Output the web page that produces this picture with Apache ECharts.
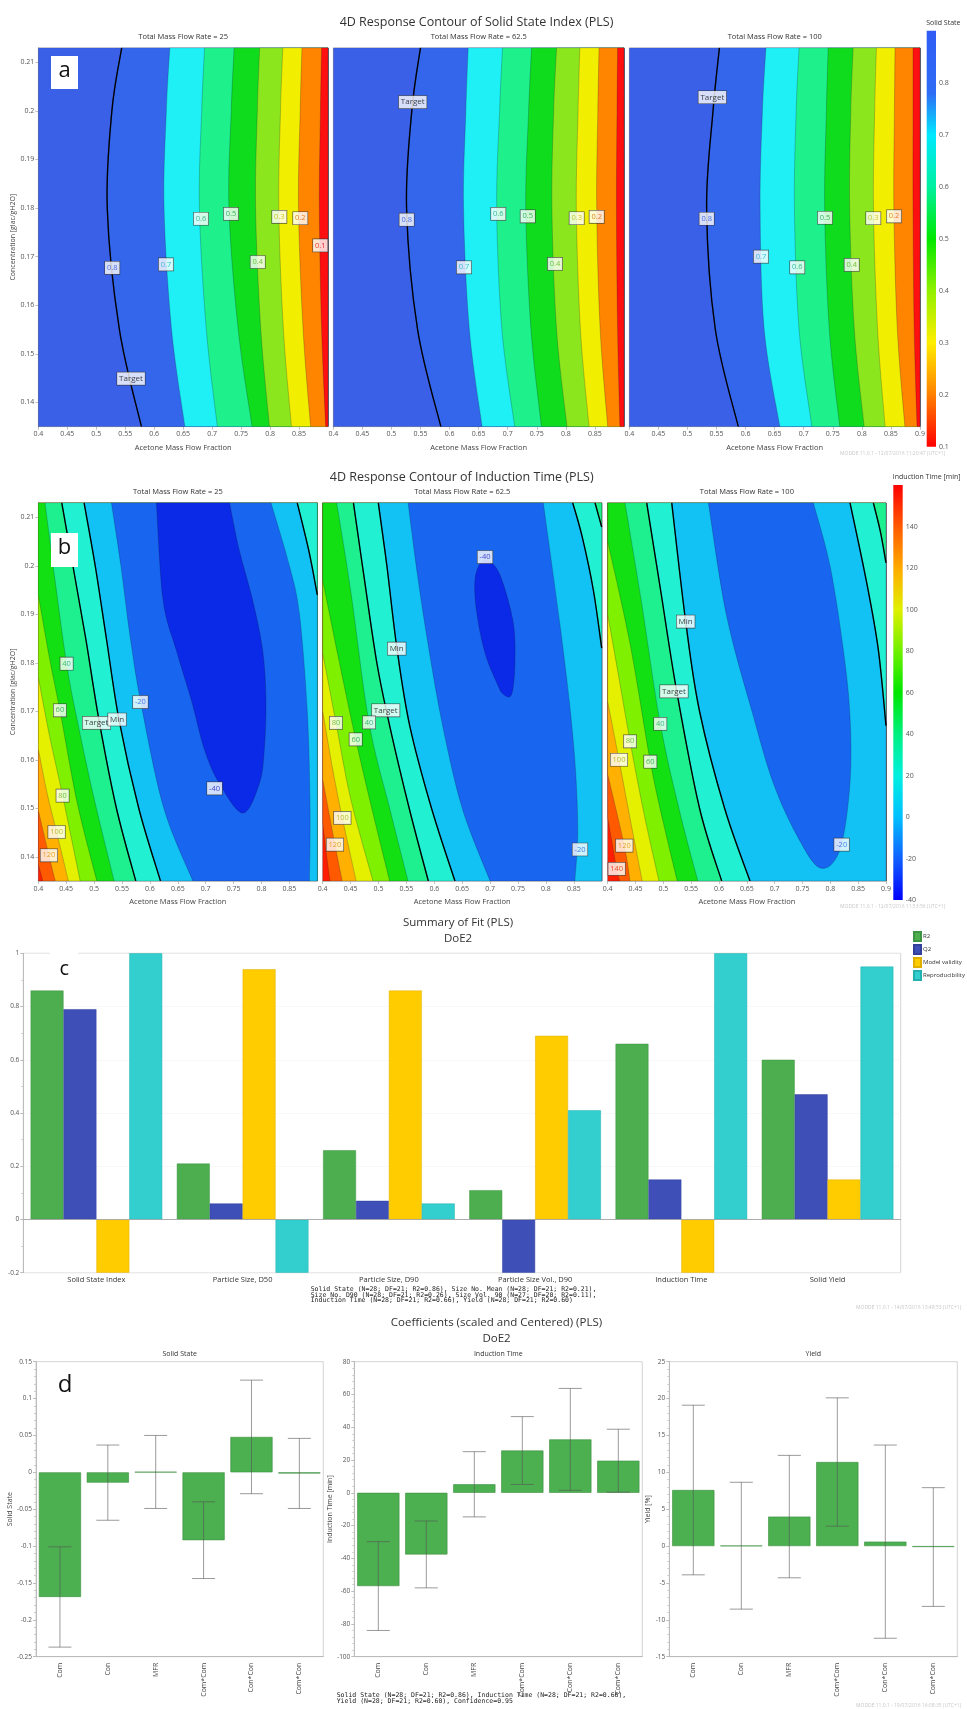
<!DOCTYPE html>
<html>
<head>
<meta charset="utf-8">
<title>DoE2 - response contours, summary of fit, coefficients</title>
<script src="https://cdn.jsdelivr.net/npm/echarts@6/dist/echarts.min.js"></script>
<style>
  html, body { margin: 0; padding: 0; background: #fff; }
  #chart { width: 967px; height: 1709px; }
</style>
</head>
<body>
<div id="chart"></div>
<script>
// ---------- (a) Solid State Index: x of each contour line at the heights in ssYs ----------
var ssYs = [0.213, 0.2, 0.18, 0.155, 0.135];
var ssLevels = [0.8, 0.7, 0.6, 0.5, 0.4, 0.3, 0.2, 0.1];
var ssLines25 = [
  [0.544, 0.527, 0.519, 0.540, 0.578],
  [0.627, 0.621, 0.617, 0.630, 0.653],
  [0.687, 0.682, 0.678, 0.690, 0.709],
  [0.738, 0.733, 0.729, 0.745, 0.769],
  [0.782, 0.778, 0.775, 0.784, 0.799],
  [0.822, 0.818, 0.815, 0.823, 0.837],
  [0.855, 0.852, 0.849, 0.857, 0.870],
  [0.889, 0.887, 0.885, 0.889, 0.896]
];
var ssLines62 = [
  [0.550, 0.535, 0.526, 0.545, 0.585],
  [0.632, 0.628, 0.624, 0.634, 0.656],
  [0.691, 0.686, 0.681, 0.690, 0.712],
  [0.741, 0.736, 0.731, 0.740, 0.758],
  [0.784, 0.779, 0.776, 0.784, 0.802],
  [0.824, 0.821, 0.818, 0.825, 0.840],
  [0.857, 0.855, 0.853, 0.859, 0.872],
  [0.889, 0.888, 0.887, 0.889, 0.893]
];
var ssLines100 = [
  [0.555, 0.544, 0.533, 0.548, 0.5875],
  [0.635, 0.629, 0.625, 0.632, 0.659],
  [0.692, 0.687, 0.684, 0.692, 0.714],
  [0.742, 0.739, 0.736, 0.744, 0.762],
  [0.785, 0.781, 0.779, 0.787, 0.804],
  [0.825, 0.822, 0.820, 0.827, 0.840],
  [0.857, 0.856, 0.855, 0.861, 0.874],
  [0.888, 0.888, 0.888, 0.890, 0.895]
];
var ssLabels25 = [[0.5277, 0.1677, '0.8'], [0.6204, 0.1684, '0.7'], [0.6808, 0.1778, '0.6'], [0.7326, 0.1788, '0.5'],
  [0.7787, 0.1689, '0.4'], [0.816, 0.1782, '0.3'], [0.8522, 0.1779, '0.2'], [0.8867, 0.1723, '0.1'], [0.56, 0.1449, 'Target']];
var ssLabels62 = [[0.5366, 0.2018, 'Target'], [0.5262, 0.1776, '0.8'], [0.6248, 0.1678, '0.7'], [0.6838, 0.1788, '0.6'],
  [0.7344, 0.1783, '0.5'], [0.7813, 0.1685, '0.4'], [0.8186, 0.1779, '0.3'], [0.853, 0.1782, '0.2']];
var ssLabels100 = [[0.5428, 0.2028, 'Target'], [0.5331, 0.1778, '0.8'], [0.6265, 0.17, '0.7'], [0.6889, 0.1678, '0.6'],
  [0.7366, 0.178, '0.5'], [0.7825, 0.1683, '0.4'], [0.8197, 0.1779, '0.3'], [0.8553, 0.1783, '0.2']];

// ---------- (b) Induction Time: contour pieces [x, y] per level ----------
var itLevels = [140, 120, 100, 80, 60, 40, 20, 0, -20, -40];
var itLines25 = [
  [[[0.4, 0.1385], [0.408, 0.135]]],
  [[[0.4, 0.1496], [0.419, 0.1403], [0.4304, 0.135]]],
  [[[0.4, 0.1622], [0.416, 0.153], [0.4328, 0.1451], [0.454, 0.135]]],
  [[[0.4, 0.177], [0.42, 0.165], [0.4435, 0.1526], [0.475, 0.135]]],
  [[[0.4, 0.194], [0.42, 0.181], [0.4387, 0.1702], [0.47, 0.151], [0.505, 0.135]]],
  [[[0.412, 0.213], [0.43, 0.197], [0.4507, 0.1798], [0.47, 0.168], [0.5, 0.152], [0.536, 0.135]]],
  [[[0.442, 0.213], [0.462, 0.2], [0.485, 0.185], [0.509, 0.168], [0.54, 0.15], [0.5747, 0.135]]],
  [[[0.482, 0.213], [0.502, 0.2], [0.522, 0.185], [0.545, 0.168], [0.58, 0.15], [0.619, 0.135]],
   [[0.9, 0.194], [0.885, 0.203], [0.864, 0.213]]],
  [[[0.531, 0.213], [0.548, 0.2], [0.565, 0.185], [0.585, 0.171], [0.625, 0.15], [0.677, 0.135]],
   [[0.886, 0.135], [0.887, 0.15], [0.882, 0.17], [0.868, 0.19], [0.85, 0.2], [0.817, 0.213]]],
  [[[0.6116, 0.213], [0.6235, 0.193], [0.647, 0.1827], [0.674, 0.1724], [0.698, 0.162], [0.725, 0.155], [0.7666, 0.149],
    [0.796, 0.155], [0.805, 0.162], [0.808, 0.1724], [0.802, 0.1827], [0.784, 0.193], [0.76, 0.2033], [0.7427, 0.213]]]
];
var itLines62 = [
  [[[0.4, 0.147], [0.406, 0.141], [0.413, 0.135]]],
  [[[0.4, 0.156], [0.422, 0.1425], [0.435, 0.135]]],
  [[[0.4, 0.17], [0.418, 0.158], [0.4352, 0.148], [0.46, 0.135]]],
  [[[0.4, 0.182], [0.4238, 0.1676], [0.45, 0.152], [0.49, 0.135]]],
  [[[0.4, 0.197], [0.43, 0.18], [0.4591, 0.1642], [0.49, 0.149], [0.52, 0.135]]],
  [[[0.425, 0.213], [0.45, 0.195], [0.483, 0.1677], [0.52, 0.15], [0.553, 0.135]]],
  [[[0.455, 0.213], [0.475, 0.197], [0.497, 0.18], [0.52, 0.167], [0.555, 0.15], [0.5893, 0.135]],
   [[0.9, 0.208], [0.888, 0.213]]],
  [[[0.4996, 0.213], [0.515, 0.2], [0.533, 0.183], [0.556, 0.167], [0.595, 0.15], [0.637, 0.135]],
   [[0.9, 0.183], [0.885, 0.195], [0.865, 0.206], [0.848, 0.213]]],
  [[[0.553, 0.213], [0.57, 0.198], [0.59, 0.183], [0.615, 0.167], [0.65, 0.15], [0.70, 0.135]],
   [[0.852, 0.135], [0.857, 0.145], [0.853, 0.158], [0.842, 0.172], [0.825, 0.188], [0.7953, 0.213]]],
  [[[0.685, 0.2009], [0.6729, 0.1972], [0.676, 0.1903], [0.6909, 0.182], [0.7118, 0.1759], [0.7237, 0.1735],
    [0.7387, 0.1735], [0.7446, 0.18], [0.7416, 0.1882], [0.7208, 0.1972], [0.7029, 0.2006], [0.685, 0.2009]]]
];
var itLines100 = [
  [[[0.4, 0.148], [0.4162, 0.1375], [0.422, 0.135]]],
  [[[0.4, 0.157], [0.4298, 0.1423], [0.44, 0.135]]],
  [[[0.4, 0.172], [0.4203, 0.16], [0.44, 0.148], [0.462, 0.135]]],
  [[[0.4, 0.19], [0.42, 0.177], [0.4401, 0.1638], [0.465, 0.149], [0.492, 0.135]]],
  [[[0.4, 0.205], [0.44, 0.184], [0.4766, 0.1596], [0.5, 0.147], [0.525, 0.135]]],
  [[[0.431, 0.213], [0.46, 0.193], [0.4945, 0.1674], [0.53, 0.149], [0.562, 0.135]]],
  [[[0.47, 0.213], [0.495, 0.195], [0.524, 0.1741], [0.565, 0.15], [0.6048, 0.135]],
   [[0.9, 0.2006], [0.89, 0.207], [0.8772, 0.213]]],
  [[[0.515, 0.213], [0.5401, 0.1885], [0.565, 0.17], [0.61, 0.15], [0.6557, 0.135]],
   [[0.9, 0.167], [0.8862, 0.1827], [0.8653, 0.1965], [0.8353, 0.213]]],
  [[[0.5808, 0.213], [0.6138, 0.1896], [0.6616, 0.169], [0.6975, 0.1552], [0.7395, 0.1445], [0.7815, 0.1377],
    [0.8174, 0.1415], [0.8353, 0.1552], [0.8353, 0.169], [0.8233, 0.1827], [0.7994, 0.2], [0.7694, 0.213]]],
  []
];
var itLabels25 = [[0.4507, 0.1798, '40'], [0.4387, 0.1702, '60'], [0.4435, 0.1526, '80'], [0.4328, 0.1451, '100'],
  [0.4191, 0.1403, '120'], [0.5043, 0.1676, 'Target'], [0.5413, 0.1683, 'Min'], [0.583, 0.1719, '-20'], [0.7159, 0.1541, '-40']];
var itLabels62 = [[0.5326, 0.1829, 'Min'], [0.5129, 0.1702, 'Target'], [0.4238, 0.1676, '80'], [0.483, 0.1677, '40'],
  [0.4591, 0.1642, '60'], [0.4352, 0.148, '100'], [0.422, 0.1425, '120'], [0.6909, 0.2018, '-40'], [0.8611, 0.1415, '-20']];
var itLabels100 = [[0.5401, 0.1885, 'Min'], [0.5191, 0.1741, 'Target'], [0.4945, 0.1674, '40'], [0.4401, 0.1638, '80'],
  [0.4203, 0.16, '100'], [0.4766, 0.1596, '60'], [0.4298, 0.1423, '120'], [0.4162, 0.1375, '140'], [0.8204, 0.1425, '-20']];

// ---------- (c) Summary of fit ----------
var fitCats = ['Solid State Index', 'Particle Size, D50', 'Particle Size, D90', 'Particle Size Vol., D90', 'Induction Time', 'Solid Yield'];
var fitR2 = [0.86, 0.21, 0.26, 0.11, 0.66, 0.60];
var fitQ2 = [0.79, 0.06, 0.07, -0.2, 0.15, 0.47];
var fitValidity = [-0.2, 0.94, 0.86, 0.69, -0.2, 0.15];
var fitRepro = [1.0, -0.2, 0.06, 0.41, 1.0, 0.95];

// ---------- (d) Coefficients with 95% confidence ----------
var coefTerms = ['Com', 'Con', 'MFR', 'Com*Com', 'Con*Con', 'Com*Con'];
var coefSolid = [-0.169, -0.014, 0.0005, -0.092, 0.048, -0.0015];
var ciSolid = [0.068, 0.051, 0.0495, 0.052, 0.077, 0.0475];
var coefInduction = [-56.9, -37.6, 5.2, 25.8, 32.6, 19.6];
var ciInduction = [27.1, 20.4, 19.9, 20.7, 31.1, 19.2];
var coefYield = [7.6, 0.05, 4.0, 11.4, 0.6, -0.13];
var ciYield = [11.5, 8.6, 8.3, 8.7, 13.1, 8.05];

// ---------- styles ----------
var FONT = '"Open Sans", "Noto Sans", sans-serif';
var MONO = '"DejaVu Sans Mono", "Liberation Mono", monospace';
var ssFill = ['#3a60e8', '#3466ec', '#1ff0f5', '#1ef08c', '#10dc1e', '#8ce61e', '#f2ee00', '#ff8400', '#ff1010'];
var itFill = ['#ff1e00', '#ff5a00', '#ffb000', '#e4f000', '#7ef000', '#12e012', '#1ef090', '#22f0d2', '#12c2f5', '#1866f0', '#0a2ae8'];
var labelInk = {
  '0.8': '#3050d8', '0.7': '#18b0c8', '0.6': '#18a878', '0.5': '#18a040', '0.4': '#58b018', '0.3': '#c0b800',
  '0.2': '#d86000', '0.1': '#e00000', '140': '#e03000', '120': '#e09000', '100': '#a8b010', '80': '#58b020',
  '60': '#20a040', '40': '#20a868', '-20': '#2060e0', '-40': '#2020c0'
};
var XR = [0.4, 0.9], YR = [0.135, 0.213];
var CORNERS = [[XR[0], YR[0]], [XR[1], YR[0]], [XR[1], YR[1]], [XR[0], YR[1]]];

// position of a boundary point along the plot frame, counter-clockwise from bottom-left
function perim(p) {
  var u = (p[0] - XR[0]) / (XR[1] - XR[0]);
  var v = (p[1] - YR[0]) / (YR[1] - YR[0]);
  var d = [Math.abs(v), Math.abs(1 - u), Math.abs(1 - v), Math.abs(u)];
  var m = Math.min.apply(null, d);
  if (m === d[0]) return u;
  if (m === d[1]) return 1 + v;
  if (m === d[2]) return 2 + (1 - u);
  return 3 + (1 - v);
}
function walk(from, to) {
  var s0 = perim(from), s1 = perim(to);
  if (s1 < s0) s1 += 4;
  var out = [];
  for (var k = Math.floor(s0) + 1; k < s1; k++) out.push(CORNERS[k % 4]);
  return out;
}
function isClosed(piece) {
  var a = piece[0], b = piece[piece.length - 1];
  return piece.length > 2 && a[0] === b[0] && a[1] === b[1];
}
// Catmull-Rom curve through pixel points, as cubic segments
function curve(pts, closed) {
  var n = pts.length, d = '';
  function get(i) { return closed ? pts[(i + n) % n] : pts[Math.max(0, Math.min(n - 1, i))]; }
  var segs = closed ? n : n - 1;
  for (var i = 0; i < segs; i++) {
    var p0 = get(i - 1), p1 = get(i), p2 = get(i + 1), p3 = get(i + 2);
    d += ' C' + (p1[0] + (p2[0] - p0[0]) / 6) + ',' + (p1[1] + (p2[1] - p0[1]) / 6) + ' ' +
      (p2[0] - (p3[0] - p1[0]) / 6) + ',' + (p2[1] - (p3[1] - p1[1]) / 6) + ' ' + p2[0] + ',' + p2[1];
  }
  return d;
}
function regionPath(pieces, api) {
  var d = '';
  pieces.forEach(function (piece, k) {
    var closed = isClosed(piece);
    var pts = (closed ? piece.slice(0, -1) : piece).map(function (p) { return api.coord(p); });
    d += (k === 0 ? 'M' : ' L') + pts[0][0] + ',' + pts[0][1] + curve(pts, closed);
    if (!closed) {
      walk(piece[piece.length - 1], pieces[(k + 1) % pieces.length][0]).forEach(function (c) {
        var q = api.coord(c);
        d += ' L' + q[0] + ',' + q[1];
      });
    }
  });
  return d + ' Z';
}
function linePath(piece, api) {
  var pts = piece.map(function (p) { return api.coord(p); });
  return 'M' + pts[0][0] + ',' + pts[0][1] + curve(pts, false);
}
function boxPath(api) {
  return 'M' + CORNERS.map(function (c) { var q = api.coord(c); return q[0] + ',' + q[1]; }).join(' L') + ' Z';
}

var grids = [], xAxes = [], yAxes = [], series = [], graphics = [];

function txt(x, y, text, size, opts) {
  opts = opts || {};
  var align = opts.align || 'center';
  return {
    type: 'text', x: x, y: y, z: 60, silent: true,
    style: {
      text: text, fontSize: size, fontFamily: opts.family || FONT, fill: opts.color || '#333',
      fontWeight: opts.weight || 'normal', align: align, textAlign: align,
      verticalAlign: 'middle', textVerticalAlign: 'middle', lineHeight: opts.lineHeight || size * 1.2
    }
  };
}

var axisGrey = { color: '#999', width: 0.6 };
var yTicks = [0.14, 0.15, 0.16, 0.17, 0.18, 0.19, 0.2, 0.21];

function contourPanel(box, regions, fills, black, labels, firstCol, lastCol) {
  var g = grids.length;
  grids.push({ left: box[0], top: box[1], width: box[2], height: box[3], show: true, borderColor: '#aaa', borderWidth: 0.5 });
  xAxes.push({
    type: 'value', gridIndex: g, min: XR[0], max: XR[1], interval: 0.05,
    name: 'Acetone Mass Flow Fraction', nameLocation: 'middle', nameGap: 17,
    nameTextStyle: { fontSize: 7.5, color: '#444', fontFamily: FONT },
    axisLine: { lineStyle: axisGrey }, axisTick: { length: 3, lineStyle: axisGrey },
    axisLabel: { fontSize: 7, color: '#555', margin: 4, showMaxLabel: lastCol, fontFamily: FONT },
    splitLine: { show: false }
  });
  yAxes.push({
    type: 'value', gridIndex: g, min: YR[0], max: YR[1], show: firstCol,
    name: 'Concentration [glac/gH2O]', nameLocation: 'middle', nameGap: 22,
    nameTextStyle: { fontSize: 7, color: '#444', fontFamily: FONT },
    axisLine: { lineStyle: axisGrey },
    axisTick: { length: 3, lineStyle: axisGrey, customValues: yTicks },
    axisLabel: { fontSize: 7, color: '#555', margin: 4, customValues: yTicks, fontFamily: FONT },
    splitLine: { show: false }
  });
  series.push({
    type: 'custom', xAxisIndex: g, yAxisIndex: g, clip: true, silent: true, z: 2,
    data: fills.map(function (f, i) { return [i]; }),
    renderItem: function (params, api) {
      var i = params.dataIndex;
      if (i > 0 && regions[i - 1].length === 0) return null;
      var kids = [{
        type: 'path', z2: i, shape: { pathData: i === 0 ? boxPath(api) : regionPath(regions[i - 1], api) },
        style: { fill: fills[i], stroke: 'rgba(20,20,50,0.45)', lineWidth: 0.5 }
      }];
      if (i > 0 && black.indexOf(i - 1) >= 0) {
        regions[i - 1].forEach(function (piece) {
          kids.push({ type: 'path', z2: 100, shape: { pathData: linePath(piece, api) },
            style: { fill: 'none', stroke: '#000', lineWidth: 1.4 } });
        });
      }
      return { type: 'group', children: kids };
    }
  });
  series.push({
    type: 'scatter', xAxisIndex: g, yAxisIndex: g, symbolSize: 1, silent: true, z: 6,
    itemStyle: { color: 'rgba(0,0,0,0)' },
    data: labels.map(function (l) {
      var special = l[2] === 'Target' || l[2] === 'Min';
      return { value: [l[0], l[1]], name: l[2],
        label: { color: special ? '#111' : (labelInk[l[2]] || '#333'), fontSize: special ? 8 : 7.5 } };
    }),
    label: {
      show: true, position: 'inside', formatter: '{b}', fontFamily: FONT,
      backgroundColor: '#fff', borderColor: '#333', borderWidth: 0.6, padding: [2.5, 2, 2, 2]
    }
  });
}

function colorBar(box, min, max, interval, stops) {
  var g = grids.length;
  grids.push({ left: box[0], top: box[1], width: box[2], height: box[3] });
  xAxes.push({ type: 'value', gridIndex: g, min: 0, max: 1, show: false });
  yAxes.push({
    type: 'value', gridIndex: g, min: min, max: max, interval: interval, position: 'right',
    axisLine: { show: false }, axisTick: { show: false }, splitLine: { show: false },
    axisLabel: { fontSize: 7, color: '#555', margin: 3, showMaxLabel: false, fontFamily: FONT }
  });
  series.push({
    type: 'custom', xAxisIndex: g, yAxisIndex: g, silent: true, data: [[0]],
    renderItem: function (params, api) {
      var a = api.coord([0, max]), b = api.coord([1, min]);
      return { type: 'rect', shape: { x: a[0], y: a[1], width: b[0] - a[0], height: b[1] - a[1] },
        style: { fill: { type: 'linear', x: 0, y: 0, x2: 0, y2: 1, colorStops: stops } } };
    }
  });
}

// ---------- (a) ----------
function ssPieces(lines) {
  return lines.map(function (xs) { return [xs.map(function (x, k) { return [x, ssYs[k]]; })]; });
}
contourPanel([38.3, 47.7, 289.7, 379], ssPieces(ssLines25), ssFill, [0], ssLabels25, true, false);
contourPanel([333.3, 47.7, 290.7, 379], ssPieces(ssLines62), ssFill, [0], ssLabels62, false, false);
contourPanel([629.3, 47.7, 290.7, 379], ssPieces(ssLines100), ssFill, [0], ssLabels100, false, true);
colorBar([926.7, 30.7, 9.3, 416], 0.1, 0.9, 0.1, [
  { offset: 0, color: '#2f5cf5' }, { offset: 0.15, color: '#2f6cf5' }, { offset: 0.25, color: '#00e8ff' },
  { offset: 0.375, color: '#00f0a0' }, { offset: 0.5, color: '#00e800' }, { offset: 0.625, color: '#90f000' },
  { offset: 0.75, color: '#ffee00' }, { offset: 0.875, color: '#ff8000' }, { offset: 1, color: '#ff0000' }
]);

// ---------- (b) ----------
contourPanel([38.3, 502.7, 279, 378.3], itLines25, itFill, [6, 7], itLabels25, true, false);
contourPanel([322.7, 502.7, 279, 378.3], itLines62, itFill, [6, 7], itLabels62, false, false);
contourPanel([607.7, 502.7, 278.3, 378.3], itLines100, itFill, [6, 7], itLabels100, false, true);
colorBar([893.3, 485, 9.4, 415], -40, 160, 20, [
  { offset: 0, color: '#ff0000' }, { offset: 0.1, color: '#ff5a00' }, { offset: 0.2, color: '#ffaa00' },
  { offset: 0.3, color: '#e0f000' }, { offset: 0.4, color: '#70f000' }, { offset: 0.5, color: '#00e600' },
  { offset: 0.6, color: '#00f080' }, { offset: 0.7, color: '#00f0e0' }, { offset: 0.8, color: '#00c0ff' },
  { offset: 0.9, color: '#1060ff' }, { offset: 1, color: '#0000ff' }
]);

// ---------- (c) ----------
var gC = grids.length;
grids.push({ left: 23.3, top: 953.3, width: 877.4, height: 319.4, show: true, borderColor: '#c8c8c8', borderWidth: 0.8 });
xAxes.push({
  type: 'category', gridIndex: gC, data: fitCats,
  axisLine: { lineStyle: { color: '#bbb' } }, axisTick: { alignWithLabel: true, length: 3, lineStyle: { color: '#bbb' } },
  axisLabel: { fontSize: 7.5, color: '#333', margin: 3, interval: 0, fontFamily: FONT }
});
yAxes.push({
  type: 'value', gridIndex: gC, min: -0.2, max: 1, interval: 0.2,
  axisLine: { show: true, lineStyle: { color: '#bbb' } }, axisTick: { show: true, length: 3, lineStyle: { color: '#bbb' } },
  minorTick: { show: true, splitNumber: 2, length: 2, lineStyle: { color: '#ccc' } },
  axisLabel: { fontSize: 6.5, color: '#555', margin: 4, fontFamily: FONT },
  splitLine: { show: true, lineStyle: { color: '#f3f3f3', width: 0.6 } }
});
[['R2', fitR2, '#4cae4f', '#3f9443'], ['Q2', fitQ2, '#3f4fb8', '#33409a'],
 ['Model validity', fitValidity, '#ffcc00', '#e0b000'], ['Reproducibility', fitRepro, '#33cfcf', '#22b0b0']].forEach(function (s, k) {
  series.push({
    type: 'bar', name: s[0], xAxisIndex: gC, yAxisIndex: gC, data: s[1], barGap: '0%', barCategoryGap: '10%',
    itemStyle: { color: s[2], borderColor: s[3], borderWidth: 0.5 }, silent: true,
    markLine: k === 0 ? { silent: true, symbol: 'none', label: { show: false }, data: [{ yAxis: 0 }],
      lineStyle: { color: '#aaa', width: 0.8, type: 'solid' } } : undefined
  });
});

// ---------- (d) ----------
function coefPanel(box, vals, cis, min, max, interval, yName, nameGap) {
  var g = grids.length;
  grids.push({ left: box[0], top: box[1], width: box[2], height: box[3], show: true, borderColor: '#c8c8c8', borderWidth: 0.8 });
  xAxes.push({
    type: 'category', gridIndex: g, data: coefTerms,
    axisLine: { onZero: false, lineStyle: { color: '#bbb' } }, axisTick: { show: false },
    axisLabel: { rotate: 90, fontSize: 7, color: '#444', margin: 6, interval: 0, fontFamily: FONT }
  });
  yAxes.push({
    type: 'value', gridIndex: g, min: min, max: max, interval: interval,
    name: yName, nameLocation: 'middle', nameGap: nameGap,
    nameTextStyle: { fontSize: 7, color: '#444', fontFamily: FONT },
    axisLine: { show: true, lineStyle: { color: '#bbb' } }, axisTick: { show: true, length: 3, lineStyle: { color: '#bbb' } },
    minorTick: { show: true, splitNumber: 5, length: 2, lineStyle: { color: '#ccc' } },
    axisLabel: { fontSize: 6.5, color: '#555', margin: 4, fontFamily: FONT },
    splitLine: { show: false }
  });
  series.push({
    type: 'bar', xAxisIndex: g, yAxisIndex: g, data: vals, barWidth: '88%', silent: true,
    itemStyle: { color: '#4caf50', borderColor: '#3c8f40', borderWidth: 0.6 }
  });
  series.push({
    type: 'custom', xAxisIndex: g, yAxisIndex: g, silent: true, z: 4,
    data: vals.map(function (v, i) { return [i, v - cis[i], v + cis[i]]; }),
    renderItem: function (params, api) {
      var i = params.dataIndex;
      var lo = api.coord([i, api.value(1)]), hi = api.coord([i, api.value(2)]);
      var half = api.size([1, 0])[0] * 0.24;
      var st = { stroke: '#555', lineWidth: 0.7, opacity: 0.85 };
      return { type: 'group', children: [
        { type: 'line', shape: { x1: lo[0], y1: lo[1], x2: hi[0], y2: hi[1] }, style: st },
        { type: 'line', shape: { x1: lo[0] - half, y1: lo[1], x2: lo[0] + half, y2: lo[1] }, style: st },
        { type: 'line', shape: { x1: hi[0] - half, y1: hi[1], x2: hi[0] + half, y2: hi[1] }, style: st }
      ] };
    }
  });
}
coefPanel([36, 1361.7, 287.3, 295], coefSolid, ciSolid, -0.25, 0.15, 0.05, 'Solid State', 22);
coefPanel([354.3, 1361.7, 288, 295], coefInduction, ciInduction, -100, 80, 20, 'Induction Time [min]', 20);
coefPanel([669.3, 1361.7, 288, 295], coefYield, ciYield, -15, 25, 5, 'Yield [%]', 16);

// ---------- free text ----------
graphics.push(txt(476.5, 22, '4D Response Contour of Solid State Index (PLS)', 12.5));
graphics.push(txt(183.2, 37, 'Total Mass Flow Rate = 25', 7.5));
graphics.push(txt(478.7, 37, 'Total Mass Flow Rate = 62.5', 7.5));
graphics.push(txt(774.7, 37, 'Total Mass Flow Rate = 100', 7.5));
graphics.push(txt(943.3, 22.5, 'Solid State', 7));
graphics.push(txt(840, 454, 'MODDE 11.0.1 - 12/07/2016 11:20:47 (UTC+1)', 5, { align: 'left', color: '#c8c8c8' }));

graphics.push(txt(461.7, 477, '4D Response Contour of Induction Time (PLS)', 12.5));
graphics.push(txt(177.8, 492, 'Total Mass Flow Rate = 25', 7.5));
graphics.push(txt(462.2, 492, 'Total Mass Flow Rate = 62.5', 7.5));
graphics.push(txt(746.9, 492, 'Total Mass Flow Rate = 100', 7.5));
graphics.push(txt(926.7, 477, 'Induction Time [min]', 7));
graphics.push(txt(840, 907, 'MODDE 11.0.1 - 12/07/2016 11:53:56 (UTC+1)', 5, { align: 'left', color: '#c8c8c8' }));

graphics.push(txt(458, 923, 'Summary of Fit (PLS)', 11.5));
graphics.push(txt(458, 939, 'DoE2', 11.5));
graphics.push(txt(310.7, 1295, 'Solid State (N=28; DF=21; R2=0.86), Size No. Mean (N=28; DF=21; R2=0.21),\n' +
  'Size No. D90 (N=28; DF=21; R2=0.26), Size Vol. 90 (N=27; DF=20; R2=0.11),\n' +
  'Induction Time (N=28; DF=21; R2=0.66), Yield (N=28; DF=21; R2=0.60)', 6.5,
  { align: 'left', family: MONO, color: '#222', lineHeight: 5.7 }));
graphics.push(txt(856, 1307.3, 'MODDE 11.0.1 - 14/07/2016 13:48:53 (UTC+1)', 5, { align: 'left', color: '#c8c8c8' }));

graphics.push(txt(496.5, 1322.5, 'Coefficients (scaled and Centered) (PLS)', 11.5));
graphics.push(txt(496.5, 1338.5, 'DoE2', 11.5));
graphics.push(txt(179.7, 1353.5, 'Solid State', 7));
graphics.push(txt(498.3, 1353.5, 'Induction Time', 7));
graphics.push(txt(813.3, 1353.5, 'Yield', 7));
graphics.push(txt(336.7, 1698, 'Solid State (N=28; DF=21; R2=0.86), Induction Time (N=28; DF=21; R2=0.66),\n' +
  'Yield (N=28; DF=21; R2=0.60), Confidence=0.95', 6.5, { align: 'left', family: MONO, color: '#222', lineHeight: 5.7 }));
graphics.push(txt(856, 1705.5, 'MODDE 11.0.1 - 19/07/2016 16:08:35 (UTC+1)', 5, { align: 'left', color: '#c8c8c8' }));

// panel letters
graphics.push({ type: 'rect', z: 55, silent: true, shape: { x: 51, y: 56, width: 27, height: 33 }, style: { fill: '#fff' } });
graphics.push(txt(64.5, 71, 'a', 22, { color: '#111' }));
graphics.push({ type: 'rect', z: 55, silent: true, shape: { x: 51, y: 533, width: 27, height: 34 }, style: { fill: '#fff' } });
graphics.push(txt(64.5, 548, 'b', 22, { color: '#111' }));
graphics.push({ type: 'rect', z: 55, silent: true, shape: { x: 50, y: 950, width: 28, height: 7 }, style: { fill: '#fff' } });
graphics.push(txt(64.3, 969, 'c', 20, { color: '#111' }));
graphics.push(txt(65, 1385, 'd', 24, { color: '#111' }));

var chart = echarts.init(document.getElementById('chart'));
chart.setOption({
  backgroundColor: '#fff',
  animation: false,
  textStyle: { fontFamily: FONT },
  legend: {
    data: ['R2', 'Q2', 'Model validity', 'Reproducibility'], orient: 'vertical', left: 908, top: 926,
    itemWidth: 7, itemHeight: 9, itemGap: 2, icon: 'rect',
    textStyle: { fontSize: 6, color: '#333', padding: [0, 0, 0, -3] }
  },
  grid: grids,
  xAxis: xAxes,
  yAxis: yAxes,
  series: series,
  graphic: { elements: graphics }
});
</script>
</body>
</html>
